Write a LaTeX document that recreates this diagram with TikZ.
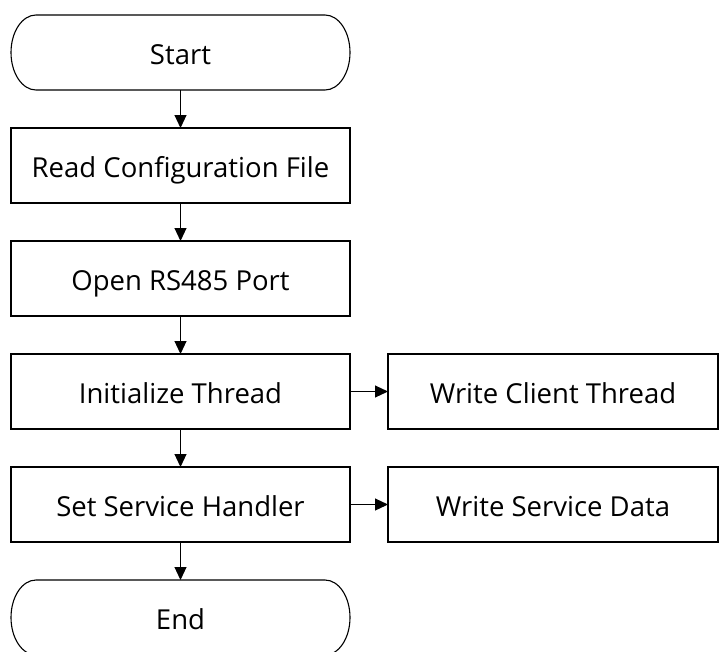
\documentclass[tikz,border=0pt]{standalone}
\usepackage{fontspec}
\setmainfont{Open Sans}
\usetikzlibrary{arrows.meta}
\begin{document}
\begin{tikzpicture}[x=1pt,y=-1pt,
  every node/.style={inner sep=0pt,outer sep=0pt,text height=23.4pt,text depth=0pt,
    font=\fontsize{27.5}{30}\selectfont},
  stepbox/.style={draw,line width=1.1pt,minimum width=339pt,minimum height=75pt},
  sidebox/.style={draw,line width=1.1pt,minimum width=330pt,minimum height=75pt},
  termbox/.style={minimum width=339pt,minimum height=75pt},
  termline/.style={line width=1.1pt},
  flow/.style={line width=1.1pt,-{Triangle[length=13pt,width=12pt]}}]
\useasboundingbox (0,0) rectangle (719,651);
\clip (0,0) rectangle (719,651);

% main column
\node[termbox]  (start) at (180.5,52.5)  {Start};
\node[stepbox]  (read)  at (180.5,165.5) {Read Configuration File};
\node[stepbox]  (open)  at (180.5,278.5) {Open RS485 Port};
\node[stepbox]  (init)  at (180.5,391.5) {Initialize Thread};
\node[stepbox]  (serv)  at (180.5,504.5) {Set Service Handler};
\node[termbox]  (end)   at (180.5,617.5) {End};

% side column
\node[sidebox] (client) at (553,391.5) {Write Client Thread};
\node[sidebox] (data)   at (553,504.5) {Write Service Data};

% terminal outlines with elliptical ends
\foreach \t in {start,end}{
  \draw[termline] ([xshift=25pt]\t.north west) -- ([xshift=-25pt]\t.north east)
    arc[start angle=90,end angle=-90,x radius=25pt,y radius=37.5pt]
    -- ([xshift=25pt]\t.south west)
    arc[start angle=270,end angle=90,x radius=25pt,y radius=37.5pt] -- cycle;
}

% connectors
\draw[flow] (start) -- (read);
\draw[flow] (read) -- (open);
\draw[flow] (open) -- (init);
\draw[flow] (init) -- (serv);
\draw[flow] (serv) -- (end);
\draw[flow] (init) -- (client);
\draw[flow] (serv) -- (data);
\end{tikzpicture}
\end{document}
